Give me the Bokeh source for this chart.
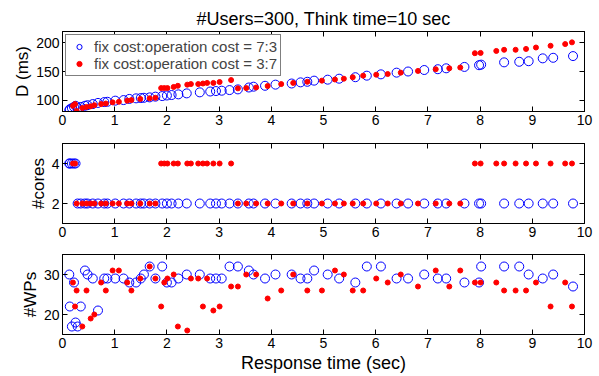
from bokeh.plotting import figure
from bokeh.models import FixedTicker, LinearAxis, Range1d, Legend, LegendItem
from bokeh.layouts import column
from bokeh.embed import file_html
from bokeh.resources import INLINE

FONT = "Liberation Sans"

# ---- data: fix cost:operation cost = 7:3 (blue circles) ----
blue_x = [0.13, 0.14, 0.18, 0.22, 0.25, 0.29, 0.35, 0.43, 0.48, 0.58, 0.68, 0.80, 0.86, 1.01,
          1.17, 1.28, 1.41, 1.50, 1.56, 1.67, 1.78, 1.91, 2.00, 2.09, 2.22, 2.38, 2.63, 2.83,
          2.94, 3.05, 3.20, 3.36, 3.57, 3.66, 3.88, 4.08, 4.39, 4.56, 4.69, 4.82, 5.08, 5.30,
          5.61, 5.83, 6.10, 6.40, 6.62, 6.93, 7.19, 7.35, 7.70, 7.98, 8.02, 8.46, 8.75, 8.93,
          9.20, 9.40, 9.78]
blue_d = [82, 84, 86, 88, 90, 86, 88, 90, 91, 93, 95, 96.5, 97, 99,
          100, 102, 103, 103.5, 104, 104.7, 106, 107, 108, 108.8, 110, 111.7, 113.5, 115,
          115.8, 116.4, 117.5, 118.7, 122, 123.4, 125, 127, 129, 131, 132, 134, 135.7, 137.4,
          140, 142.7, 145, 148, 150, 152.6, 154, 155.6, 158, 161, 162, 166, 167, 168,
          173, 174, 177]
blue_cores = [4, 4, 4, 4, 4, 2, 2, 2, 2, 2, 2, 2, 2, 2,
              2, 2, 2, 2, 2, 2, 2, 2, 2, 2, 2, 2, 2, 2,
              2, 2, 2, 2, 2, 2, 2, 2, 2, 2, 2, 2, 2, 2,
              2, 2, 2, 2, 2, 2, 2, 2, 2, 2, 2, 2, 2, 2,
              2, 2, 2]
blue_wps = [30, 22, 17, 28, 18, 17, 22, 31, 30, 29, 21, 29, 29, 29,
            29, 28, 28, 29, 30, 32, 29, 32, 28, 28, 29, 30, 30, 29,
            29, 29, 32, 32, 31, 30, 29, 30, 30, 29, 29, 31, 30, 29,
            28, 32, 32, 29, 29, 30, 29, 29, 28, 28, 32, 32, 32, 30,
            29, 30, 27]

# ---- data: fix cost:operation cost = 3:7 (red dots) ----
red_x = [0.20, 0.24, 0.27, 0.38, 0.46, 0.54, 0.61, 0.74, 0.83, 0.96, 1.08, 1.24, 1.32, 1.49,
         1.67, 1.78, 1.89, 1.95, 2.01, 2.13, 2.21, 2.39, 2.46, 2.60, 2.69, 2.77, 2.89, 3.01,
         3.23, 3.36, 3.52, 3.71, 3.93, 4.19, 4.42, 4.69, 4.97, 5.22, 5.39, 5.56, 5.76, 6.01,
         6.23, 6.48, 6.81, 7.15, 7.41, 7.62, 7.90, 8.01, 8.31, 8.46, 8.68, 8.88, 9.07, 9.35,
         9.63, 9.76]
red_d = [90, 93, 81, 86, 88, 89, 91, 93, 94, 96, 97, 99, 100, 102,
         103, 104, 121, 121, 121, 123, 125, 127, 128, 128, 129, 130, 130, 131.6,
         135, 120.5, 121, 122, 124.6, 128, 130, 132, 134, 136, 137.4, 140, 142.7, 144.4,
         145.6, 148, 151, 154, 155.6, 157, 182, 182.5, 186, 188, 188, 189.5, 192, 195,
         198, 201]
red_cores = [4, 4, 2, 2, 2, 2, 2, 2, 2, 2, 2, 2, 2, 2,
             2, 2, 4, 4, 4, 4, 4, 4, 4, 4, 4, 4, 4, 4,
             4, 2, 2, 2, 2, 2, 2, 2, 2, 2, 2, 2, 2, 2,
             2, 2, 2, 2, 2, 2, 4, 4, 4, 4, 4, 4, 4, 4,
             4, 4]
red_wps = [28, 22, 26, 17, 26, 19, 20, 28, 26, 31, 31, 28, 26, 29,
           32, 29, 22, 28, 29, 30, 17, 16, 29, 29, 22, 29, 21, 22,
           27, 27, 30, 30, 24, 26, 30, 26, 26, 31, 30, 26, 26, 29,
           28, 30, 27, 31, 27, 31, 28, 28, 28, 26, 26, 26, 28, 22,
           28, 22]

x_ticks = [0, 1, 2, 3, 4, 5, 6, 7, 8, 9, 10]
title_text = "#Users=300, Think time=10 sec"
legend_labels = ["fix cost:operation cost = 7:3", "fix cost:operation cost = 3:7"]

BLUE = "#0000ff"
RED = "#ff0000"


def style_axis(ax, ticks, show_labels=True):
    ax.ticker = FixedTicker(ticks=ticks)
    ax.major_tick_in = 5
    ax.major_tick_out = 0
    ax.minor_tick_line_color = None
    ax.axis_line_color = "black"
    ax.major_tick_line_color = "black"
    ax.major_label_text_font = FONT
    ax.axis_label_text_font = FONT
    ax.axis_label_text_font_style = "normal"
    ax.axis_label_text_color = "black"
    if show_labels:
        ax.major_label_text_color = "black"
        ax.major_label_text_font_size = "14px"
        ax.major_label_standoff = 3
    else:
        ax.major_label_text_color = None
        ax.major_label_standoff = 0


def make_panel(yr, yticks, ylabel, ys_blue, ys_red, top, bottom, xlabel=None):
    p = figure(frame_width=522, frame_height=80, x_range=Range1d(0, 10), y_range=Range1d(*yr),
               output_backend="svg", toolbar_location=None,
               min_border_left=62, min_border_right=13,
               min_border_top=top, min_border_bottom=bottom)
    p.grid.visible = False
    p.outline_line_color = "black"
    p.outline_line_width = 1
    style_axis(p.xaxis[0], x_ticks)
    style_axis(p.yaxis[0], yticks)
    p.yaxis[0].axis_label = ylabel
    p.yaxis[0].axis_label_text_font_size = "17px"
    p.yaxis[0].axis_label_standoff = 1
    if xlabel:
        p.xaxis[0].axis_label = xlabel
        p.xaxis[0].axis_label_text_font_size = "18px"
        p.xaxis[0].axis_label_standoff = 2
    top_ax = LinearAxis()
    style_axis(top_ax, x_ticks, show_labels=False)
    p.add_layout(top_ax, "above")
    right_ax = LinearAxis()
    style_axis(right_ax, yticks, show_labels=False)
    p.add_layout(right_ax, "right")
    rb = p.scatter(blue_x, ys_blue, marker="circle", size=9, fill_color=None,
                   line_color=BLUE, line_width=1)
    rr = p.scatter(red_x, ys_red, marker="circle", size=5, fill_color=RED,
                   line_color=RED, line_width=1)
    return p, rb, rr


p1, rb1, rr1 = make_panel((80, 220), [100, 150, 200], "D (ms)", blue_d, red_d, 31, 24)
p1.title.text = title_text
p1.title.align = "center"
p1.title.text_font = FONT
p1.title.text_font_size = "18px"
p1.title.text_font_style = "normal"
p1.title.text_color = "black"
p1.title.standoff = 6

legend = Legend(items=[LegendItem(label=legend_labels[0], renderers=[rb1]),
                       LegendItem(label=legend_labels[1], renderers=[rr1])],
                location="top_left")
legend.margin = 3
legend.padding = 3
legend.spacing = -3
legend.glyph_width = 20
legend.glyph_height = 13
legend.label_height = 13
legend.label_standoff = 5
legend.label_text_font = FONT
legend.label_text_font_size = "15px"
legend.border_line_color = "black"
legend.border_line_width = 1
legend.background_fill_color = "white"
legend.background_fill_alpha = 1
p1.add_layout(legend)

p2, _, _ = make_panel((1, 5), [2, 4], "#cores", blue_cores, red_cores, 8, 23)
p3, _, _ = make_panel((15, 35), [20, 30], "#WPs", blue_wps, red_wps, 8, 20,
                      xlabel="Response time (sec)")

layout = column(p1, p2, p3, spacing=0)
open("out.html", "w").write(file_html(layout, INLINE))
